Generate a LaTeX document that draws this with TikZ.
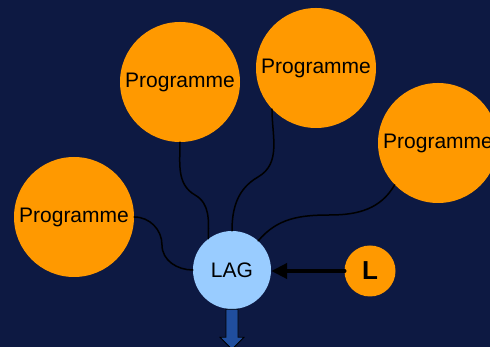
\documentclass[tikz,border=0pt]{standalone}
\usepackage{fontspec}
\setmainfont{Liberation Sans}
\usepackage{xcolor}
\definecolor{mynavy}{RGB}{13,25,66}
\definecolor{myorange}{RGB}{255,153,0}
\definecolor{mylightblue}{RGB}{153,204,255}
\definecolor{myblue}{RGB}{32,78,158}
\usetikzlibrary{arrows.meta}

\begin{document}
\begin{tikzpicture}[x=1pt,y=1pt,line cap=round]
	\tikzstyle{prog}=[circle,fill=myorange,inner sep=0pt,minimum size=120pt,font=\fontsize{21}{25}\selectfont];
	\tikzstyle{lag}=[circle,fill=mylightblue,inner sep=0pt,minimum size=78pt,font=\fontsize{21}{25}\selectfont];
	\tikzstyle{lnode}=[circle,fill=myorange,inner sep=0pt,minimum size=51pt,font=\bfseries\fontsize{26}{30}\selectfont];
	\tikzstyle{wire}=[black,line width=1.5pt];
	\fill[mynavy] (0,0) rectangle (490,347);
	\useasboundingbox (0,0) rectangle (490,347);
	\node[prog] (p1) at (74,130)  {Programme};
	\node[prog] (p2) at (180,265) {Programme};
	\node[prog] (p3) at (316,279) {Programme};
	\node[prog] (p4) at (438,204) {Programme};
	\node[lag]  (lag) at (232,77) {LAG};
	\node[lnode] (l) at (370,76)  {L};
	% wires from the programmes
	\draw[wire] (p1.east) to[out=0,in=90] (162,102) to[out=-90,in=180] (lag.west);
	\draw[wire] (p2.south) to[out=-90,in=150] (195,152) to[out=-30,in=90] (lag.127);
	\draw[wire] (p3.223) to[out=-90,in=30] (258,170) to[out=210,in=90] (lag.north);
	\draw[wire] (p4.224) to[out=240,in=0] (330,132) to[out=180,in=50] (lag.48);
	% input arrow
	\draw[line width=4.5pt,-{Triangle[length=16pt,width=15pt]}] (l.west) -- (l.west -| lag.east);
	% output arrow
	\draw[fill=myblue,line width=0.8pt] ([xshift=-6pt]lag.south) -- ++(0,-28) -- ++(-6,0) -- ++(12,-12) -- ++(12,12) -- ++(-6,0) -- ++(0,28) -- cycle;
\end{tikzpicture}
\end{document}
